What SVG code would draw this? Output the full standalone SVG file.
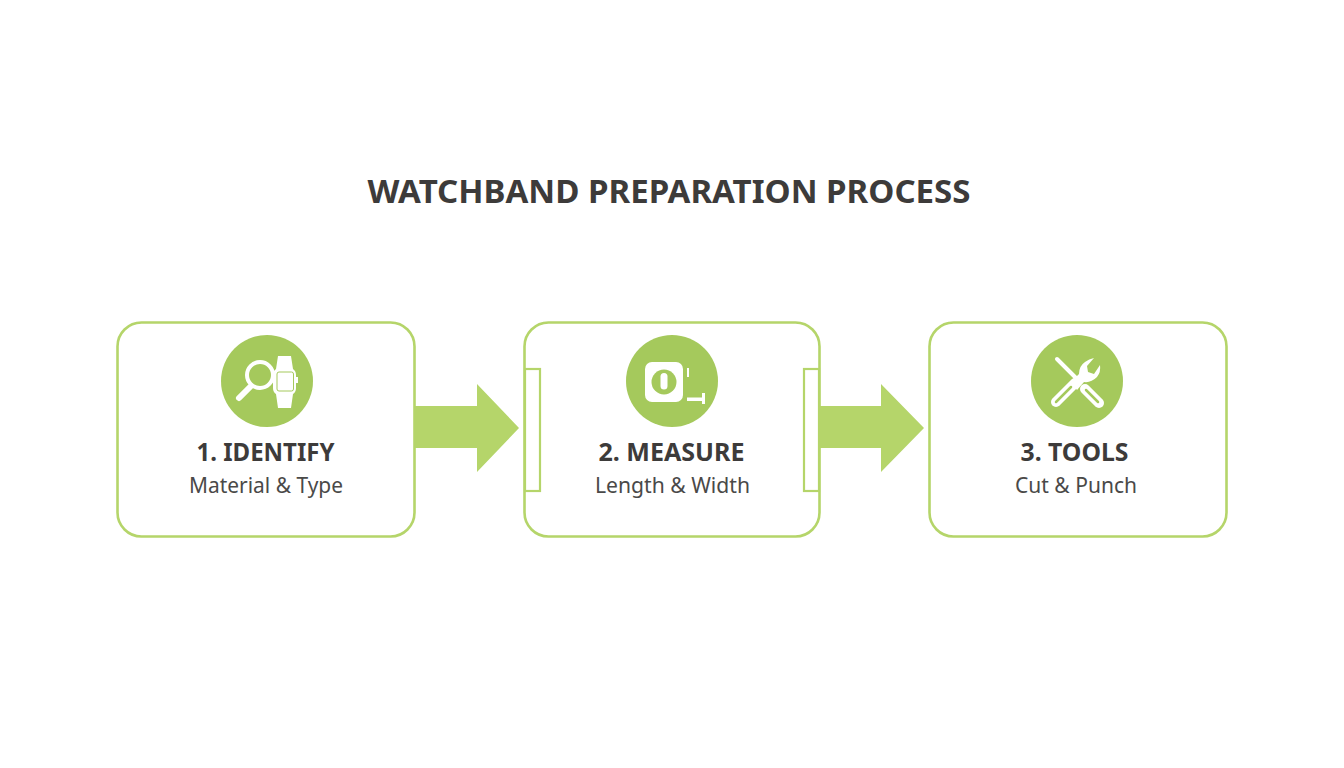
<svg xmlns="http://www.w3.org/2000/svg" width="1344" height="768" viewBox="0 0 1344 768">
<style>
.box{fill:#fff;stroke:#b5d56a;stroke-width:2.6}
.tab{fill:#fff;stroke:#b5d56a;stroke-width:2.2}
.arrow{fill:#b5d56a}
.disc{fill:#a5c95c}
.w{fill:#fff}
.ws{fill:none;stroke:#fff;stroke-linecap:round}
.gs{fill:none;stroke:#a5c95c;stroke-linecap:round}
text{font-family:"Noto Sans","Open Sans","Liberation Sans",sans-serif;text-anchor:middle}
.title{font-size:32px;font-weight:700;fill:#3d3b3a}
.head{font-size:24.5px;font-weight:700;fill:#3d3b3a}
.sub{font-size:21px;fill:#4a4948}
</style>
<rect width="1344" height="768" fill="#fff"/>
<text class="title" x="669" y="203" textLength="603" lengthAdjust="spacingAndGlyphs">WATCHBAND PREPARATION PROCESS</text>
<g id="node-identify">
<rect class="box" x="117.500" y="322.500" width="297" height="214" rx="24"/>
<circle class="disc" cx="267" cy="381" r="46"/>
<path class="w" d="M278 356H291L293 369Q296 371 296 375V388Q296 392 293 394L291 408H278L276 394Q273 392 273 388V375Q273 371 276 369Z"/>
<rect x="277" y="372" width="16.500" height="19" rx="2" fill="none" stroke="#a5c95c" stroke-width="1"/>
<rect class="w" x="296" y="377" width="2" height="6"/>
<circle cx="260" cy="375" r="13" fill="#a5c95c" stroke="#fff" stroke-width="4"/>
<path class="ws" stroke-width="6" d="M239 398L250 387"/>
<text class="head" x="265.500" y="461" textLength="138" lengthAdjust="spacingAndGlyphs">1. IDENTIFY</text>
<text class="sub" x="266" y="493" textLength="154" lengthAdjust="spacingAndGlyphs">Material &amp; Type</text>
</g>
<g id="node-measure">
<rect class="box" x="524.500" y="322.500" width="295" height="214" rx="24"/>
<rect class="tab" x="525" y="369" width="15" height="122"/>
<rect class="tab" x="804" y="369" width="15" height="122"/>
<circle class="disc" cx="672" cy="381" r="46"/>
<rect class="w" x="645" y="362" width="38" height="40" rx="7"/>
<circle cx="664" cy="382" r="12.500" fill="#a5c95c"/>
<rect class="w" x="660.500" y="373" width="7" height="16.500" rx="3.500"/>
<rect class="w" x="687" y="368" width="2" height="9"/>
<rect class="w" x="687" y="397.500" width="16" height="3.500"/>
<rect class="w" x="702" y="393" width="3" height="11"/>
<text class="head" x="671.500" y="461" textLength="146" lengthAdjust="spacingAndGlyphs">2. MEASURE</text>
<text class="sub" x="672.500" y="493" textLength="155" lengthAdjust="spacingAndGlyphs">Length &amp; Width</text>
</g>
<g id="node-tools">
<rect class="box" x="929.500" y="322.500" width="297" height="214" rx="24"/>
<circle class="disc" cx="1077" cy="381" r="46"/>
<path class="ws" stroke-width="4" d="M1057 359L1079 381"/>
<path class="ws" stroke-width="10" d="M1085 389L1099 403"/>
<path class="gs" stroke-width="2.500" d="M1086 390L1098 402"/>
<path class="ws" stroke-width="10" d="M1056 402L1075 383"/>
<path class="gs" stroke-width="2.500" d="M1056 402L1071 387"/>
<path class="w" d="M1071 382L1079 374Q1079 366 1085 362Q1089 359 1094 358L1087 366L1088 372L1094 374L1100 365Q1101 372 1097 377Q1091 383 1084 382L1077 390Z"/>
<text class="head" x="1074.500" y="461" textLength="108" lengthAdjust="spacingAndGlyphs">3. TOOLS</text>
<text class="sub" x="1076" y="493" textLength="122" lengthAdjust="spacingAndGlyphs">Cut &amp; Punch</text>
</g>
<g id="connectors">
<path class="arrow" d="M415 406H477V384L519 428L477 472V448H415Z"/>
<path class="arrow" d="M820 406H881V384L924 428L881 472V448H820Z"/>
</g>
</svg>
